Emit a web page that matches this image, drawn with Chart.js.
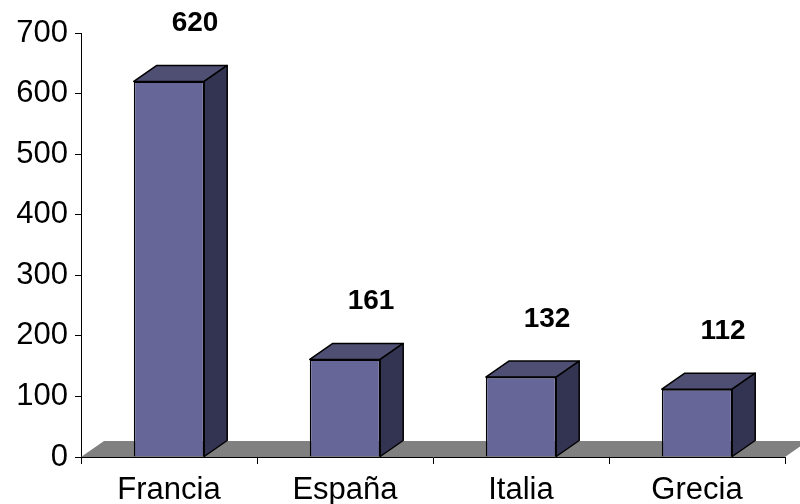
<!DOCTYPE html>
<html lang="es">
<head>
  <meta charset="UTF-8" />
  <title>Gráfico de barras</title>
  <script src="https://cdn.jsdelivr.net/npm/chart.js"></script>
  <style>
    html, body { margin: 0; padding: 0; background: #fff; }
    #grafico { display: block; }
  </style>
</head>
<body>
  <canvas id="grafico" width="800" height="504"></canvas>

  <script>
  // datos
  const paises = ['Francia', 'España', 'Italia', 'Grecia'];
  const valores = [620, 161, 132, 112];
  const yMin = 0;
  const yMax = 700;
  const yPaso = 100;

  // colores del efecto 3D
  const colorFrente = '#666699';
  const colorArriba = '#4f4f73';
  const colorLado = '#333352';
  const colorSuelo = '#808080';
  const prof = { dx: 23, dy: -16 };

  // suelo gris y caras superior/lateral de las barras
  const efecto3d = {
    id: 'efecto3d',
    beforeDatasetsDraw(chart) {
      const { ctx, chartArea: a } = chart;
      ctx.save();
      ctx.fillStyle = colorSuelo;
      ctx.beginPath();
      ctx.moveTo(a.left, a.bottom);
      ctx.lineTo(a.right, a.bottom);
      ctx.lineTo(a.right + prof.dx, a.bottom + prof.dy);
      ctx.lineTo(a.left + prof.dx, a.bottom + prof.dy);
      ctx.closePath();
      ctx.fill();
      ctx.restore();
    },
    afterDatasetsDraw(chart) {
      const { ctx } = chart;
      const meta = chart.getDatasetMeta(0);
      ctx.save();
      ctx.strokeStyle = '#000';
      ctx.lineWidth = 1.5;
      ctx.lineJoin = 'round';
      meta.data.forEach((bar, i) => {
        const { x, y, base, width } = bar.getProps(['x', 'y', 'base', 'width'], true);
        const l = x - width / 2, r = x + width / 2;
        // cara superior
        ctx.fillStyle = colorArriba;
        ctx.beginPath();
        ctx.moveTo(l, y);
        ctx.lineTo(l + prof.dx, y + prof.dy);
        ctx.lineTo(r + prof.dx, y + prof.dy);
        ctx.lineTo(r, y);
        ctx.closePath();
        ctx.fill();
        ctx.stroke();
        // cara lateral
        ctx.fillStyle = colorLado;
        ctx.beginPath();
        ctx.moveTo(r, y);
        ctx.lineTo(r + prof.dx, y + prof.dy);
        ctx.lineTo(r + prof.dx, base + prof.dy);
        ctx.lineTo(r, base);
        ctx.closePath();
        ctx.fill();
        ctx.stroke();
        // etiqueta de valor
        ctx.fillStyle = '#000';
        ctx.font = 'bold 28px "Liberation Sans", Arial, sans-serif';
        ctx.textAlign = 'center';
        ctx.textBaseline = 'middle';
        ctx.fillText(String(valores[i]), x + 26, y + prof.dy - 42);
      });
      ctx.restore();
    }
  };

  new Chart(document.getElementById('grafico'), {
    type: 'bar',
    data: {
      labels: paises,
      datasets: [{
        data: valores,
        backgroundColor: colorFrente,
        borderColor: '#000',
        borderWidth: 1.5,
        categoryPercentage: 0.4,
        barPercentage: 1
      }]
    },
    options: {
      responsive: false,
      animation: false,
      layout: { padding: { top: 33, right: 15, left: 0, bottom: 0 } },
      plugins: {
        legend: { display: false },
        tooltip: { enabled: false }
      },
      scales: {
        x: {
          offset: true,
          grid: { display: true, drawOnChartArea: false, drawTicks: true, tickLength: 7, color: '#000', offset: true },
          border: { display: true, color: '#000', width: 1 },
          ticks: {
            color: '#000',
            padding: 8,
            font: { family: '"Liberation Sans", Arial, sans-serif', size: 31 }
          },
          afterFit(scale) { scale.height = 47; }
        },
        y: {
          min: yMin,
          max: yMax,
          grid: { display: true, drawOnChartArea: false, drawTicks: true, tickLength: 6, color: '#000' },
          border: { display: true, color: '#000', width: 1 },
          ticks: {
            stepSize: yPaso,
            color: '#000',
            padding: 7,
            font: { family: '"Liberation Sans", Arial, sans-serif', size: 31 }
          },
          afterFit(scale) { scale.width = 81; }
        }
      }
    },
    plugins: [efecto3d]
  });
  </script>
</body>
</html>
